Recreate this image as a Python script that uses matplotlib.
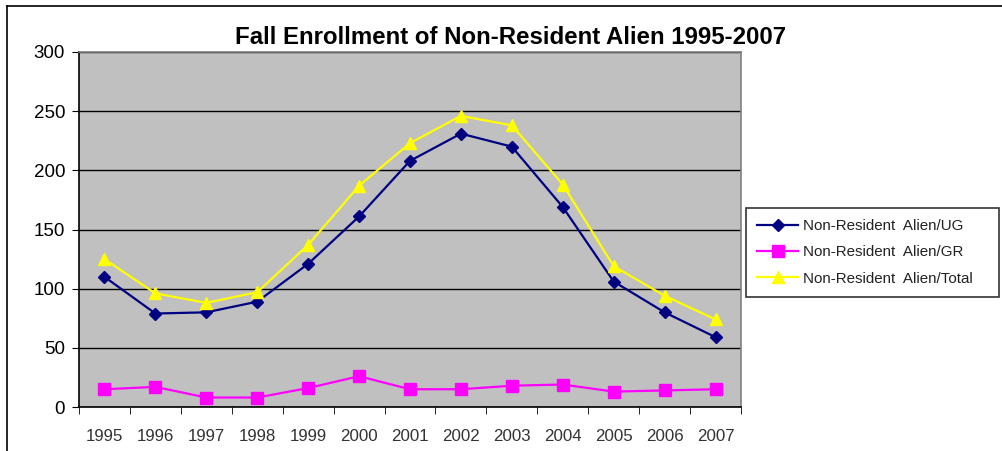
import matplotlib
matplotlib.use("Agg")
import matplotlib.pyplot as plt
from matplotlib.lines import Line2D
import numpy as np

years = ["1995", "1996", "1997", "1998", "1999", "2000", "2001",
         "2002", "2003", "2004", "2005", "2006", "2007"]
ug = [110, 79, 80, 89, 121, 161, 208, 231, 220, 169, 106, 80, 59]
gr = [15, 17, 8, 8, 16, 26, 15, 15, 18, 19, 13, 14, 15]
total = [125, 96, 88, 97, 137, 187, 223, 246, 238, 188, 119, 94, 74]
labels = ["Non-Resident  Alien/UG", "Non-Resident  Alien/GR", "Non-Resident  Alien/Total"]
title = "Fall Enrollment of Non-Resident Alien 1995-2007"

plt.rcParams['font.family'] = ['Liberation Sans', 'DejaVu Sans']

W, H = 1003, 451
fig = plt.figure(figsize=(W / 100, H / 100), dpi=100)
ax = fig.add_axes([79 / W, 1 - 407 / H, (741 - 79) / W, (407 - 52) / H])
ax.set_facecolor('#C0C0C0')

x = np.arange(len(years))
ax.plot(x, ug, color='#000080', marker='D', markersize=6.5, lw=1.6, label=labels[0])
ax.plot(x, gr, color='#FF00FF', marker='s', markersize=9, lw=1.6, label=labels[1])
ax.plot(x, total, color='#FFFF00', marker='^', markersize=9, lw=1.6, label=labels[2])

ax.set_xlim(-0.5, len(years) - 0.5)
ax.set_ylim(0, 300)
ax.set_yticks(range(0, 301, 50))
ax.yaxis.grid(True, color='black', lw=1)
ax.set_axisbelow(True)
ax.set_xticks(x)
ax.set_xticklabels(years, fontsize=12.2, color='#333333')
ax.set_xticks(np.arange(-0.5, len(years), 1), minor=True)
ax.tick_params(axis='x', which='major', length=0, pad=16)
ax.tick_params(axis='x', which='minor', length=5, direction='out', color='black')
ax.tick_params(axis='y', length=5, direction='out', labelsize=13.5, pad=5, colors='black')
for s in ['top', 'right']:
    ax.spines[s].set_color('#808080')
    ax.spines[s].set_linewidth(1.2)
for s in ['left', 'bottom']:
    ax.spines[s].set_color('black')
    ax.spines[s].set_linewidth(1.2)

fig.text(511 / W, 1 - 38 / H, title, ha='center', va='center',
         fontsize=17.3, fontweight='bold')

leg = fig.legend(loc='upper left',
                 bbox_to_anchor=(746 / W, 1 - 208 / H, (999 - 746) / W, 0),
                 mode='expand', frameon=True, fancybox=False, edgecolor='black',
                 fontsize=10.9, handlelength=2.7, labelspacing=0.8,
                 borderpad=0.75, handletextpad=0.3, borderaxespad=0)
leg.get_frame().set_linewidth(1.2)
for t in leg.get_texts():
    t.set_color('#222222')

# outer chart frame (top and left visible)
fig.add_artist(Line2D([7 / W, 7 / W], [0, 1 - 6 / H], transform=fig.transFigure, color='black', lw=1.2))
fig.add_artist(Line2D([7 / W, 1], [1 - 6 / H, 1 - 6 / H], transform=fig.transFigure, color='black', lw=1.2))

fig.savefig('out.png', dpi=100)
